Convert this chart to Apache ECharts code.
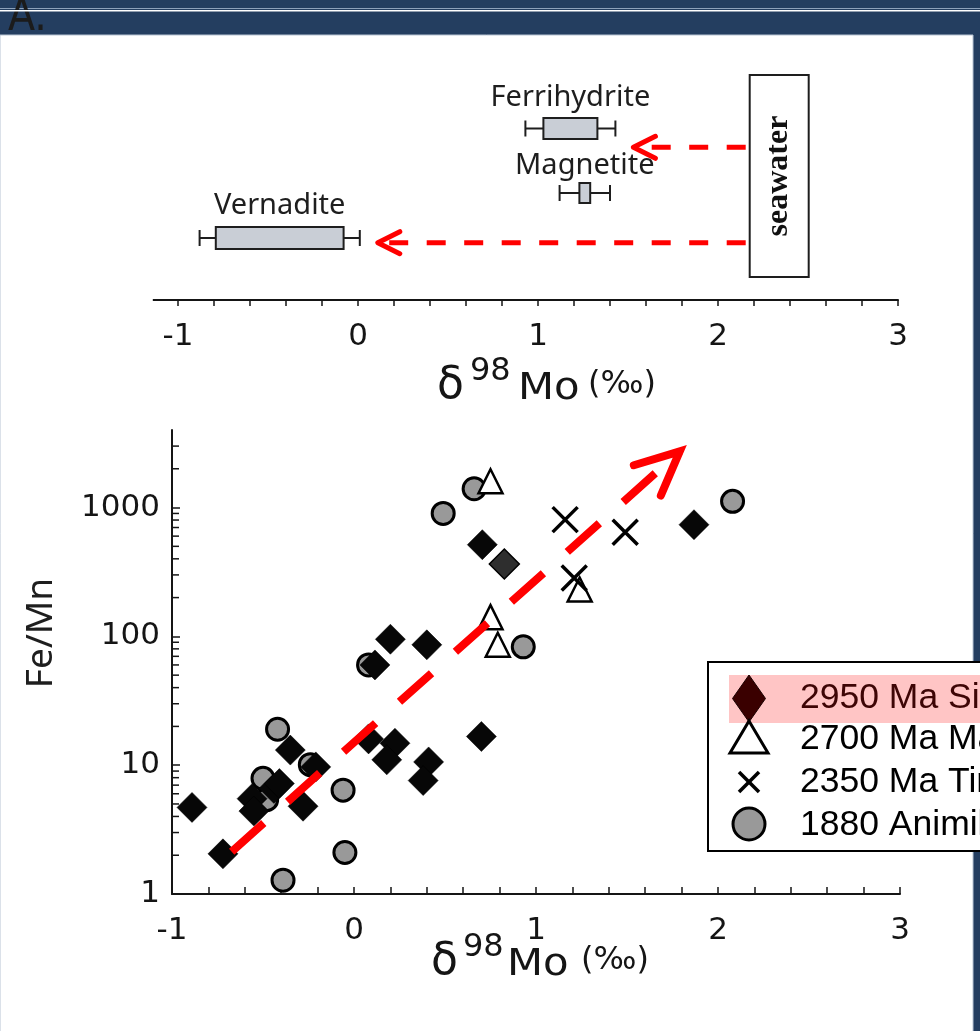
<!DOCTYPE html>
<html>
<head>
<meta charset="utf-8">
<script src="https://cdn.jsdelivr.net/npm/echarts@6/dist/echarts.min.js"></script>
<style>
html,body{margin:0;padding:0;background:#243e60;}
#c{width:980px;height:1031px;}
</style>
</head>
<body>
<div id="c"></div>
<script>
// ================= DATA =================
// Top panel: δ98Mo ranges of Mo adsorbed on minerals (whisker low, Q1, Q3, whisker high)
const minerals = ['Ferrihydrite', 'Magnetite', 'Vernadite'];
const boxWhiskerLow  = [0.93, 1.12, -0.88];
const boxQ1          = [1.03, 1.23, -0.79];
const boxQ3          = [1.33, 1.29, -0.08];
const boxWhiskerHigh = [1.43, 1.40, 0.01];
const seawaterD98Mo = 2.34;
const seawaterLabel = 'seawater';
const arrowTargetsD98Mo = [1.53, 0.11];

// Bottom panel: Fe/Mn vs δ98Mo
const seriesNames = ['2950 Ma Sinqeni Fm.', '2700 Ma Manjeri Fm.', '2350 Ma Timeball Hill Fm.', '1880 Animikie Basin'];
const sinqeniD98Mo = [-0.89, -0.72, -0.56, -0.55, -0.44, -0.41, -0.35, -0.21, -0.28, 0.08, 0.225, 0.18, 0.41, 0.38, 0.20, 0.40, 0.115, 0.70, 0.705, 0.826, 1.868];
const sinqeniFeMn  = [4.7, 2.05, 5.5, 4.4, 6.6, 7.2, 13.1, 9.7, 4.8, 16.0, 14.8, 11.0, 10.6, 7.6, 95, 86, 60, 16.7, 515, 365, 736];
const manjeriD98Mo = [0.75, 0.75, 0.79, 1.24];
const manjeriFeMn  = [1600, 141, 86, 231];
const timeballD98Mo = [1.16, 1.49, 1.21];
const timeballFeMn  = [806, 642, 284];
const animikieD98Mo = [-0.42, -0.24, -0.50, -0.48, -0.06, -0.05, -0.39, 0.08, 0.49, 0.66, 0.93, 2.08];
const animikieFeMn  = [19.0, 10.1, 7.9, 5.4, 6.4, 2.1, 1.28, 60, 900, 1400, 83, 1117];
const trendD98Mo = [-0.672, 1.79];
const trendFeMn  = [2.13, 2730];

const xTickLabels = [-1, 0, 1, 2, 3];
const yTickLabels = [1, 10, 100, 1000];
const axisTitleParts = ['δ', '98', 'Mo', '(‰)'];
const yAxisTitle = 'Fe/Mn';

// ================= LAYOUT / STYLE =================
const INK = '#151515';
const RED = '#ff0000';
const TOP_ROWS = { box: [68.5, 133, 178], labelDy: [-31, -27.5, -32], arrows: [87.3, 182.7], swTop: 15, swBottom: 217 };
const BOX_H = [21, 20, 22];
const SW_HALF_W = 29.5;
const TOP_AXIS_START = -1.14;
const SHADED_DIAMOND = 19;

// axis title pieces: vertical offset, font size, horizontal stretch
const TITLE_STYLE = [ { size: 44, dy: -2, sx: 1 }, { size: 32, dy: -17, sx: 1 }, { size: 38, dy: 0, sx: 1.1 }, { size: 32, dy: -4, sx: 1 } ];
const TITLE_POS = [
  { xs: [437, 470, 518, 588], y: 389 },
  { xs: [431, 463, 507, 581], y: 965 }
];

const fmtX = v => { const r = Math.round(v); return (Math.abs(v - r) < 1e-6 && xTickLabels.includes(r)) ? String(r) : ''; };
const fmtY = v => { const r = Math.round(v); return (Math.abs(v - r) < 1e-6 && yTickLabels.includes(r)) ? String(r) : ''; };

const tickFont = { fontFamily: 'DejaVu Sans', fontSize: 31, color: INK };

const minorVals = [];
for (let e = 0; e < 4; e++) for (let m = 2; m <= 9; m++) { const v = m * Math.pow(10, e); if (v < 4000) minorVals.push(v); }

const titleGraphics = [];
TITLE_POS.forEach(tp => {
  axisTitleParts.forEach((t, k) => {
    titleGraphics.push({
      type: 'text', z: 5, x: tp.xs[k], y: tp.y + TITLE_STYLE[k].dy, scaleX: TITLE_STYLE[k].sx,
      style: { text: t, fontFamily: 'DejaVu Sans', fontSize: TITLE_STYLE[k].size, fill: INK, align: 'left', verticalAlign: 'middle' }
    });
  });
});

const chart = echarts.init(document.getElementById('c'), null, { renderer: 'canvas', width: 980, height: 1031 });

const LEG = { x: 708, y: 662, w: 320, h: 189, iconX: 749, textX: 800, rows: [698, 739, 782, 825] };

const option = {
  animation: false,
  backgroundColor: '#243e60',
  grid: [
    { left: 178, top: 60, width: 720, height: 240, outerBoundsMode: 'none' },
    { left: 172, top: 430, width: 728, height: 464, outerBoundsMode: 'none' }
  ],
  xAxis: [
    {
      gridIndex: 0, type: 'value', min: -1, max: 3, interval: 0.2, position: 'bottom',
      axisLine: { show: true, onZero: false, lineStyle: { color: INK, width: 2 } },
      axisTick: { show: true, inside: false, length: 6, lineStyle: { color: INK, width: 1.5 } },
      axisLabel: Object.assign({ margin: 21, formatter: fmtX }, tickFont),
      splitLine: { show: false }
    },
    {
      gridIndex: 1, type: 'value', min: -1, max: 3, interval: 0.2, position: 'bottom',
      axisLine: { show: true, onZero: false, lineStyle: { color: INK, width: 2 } },
      axisTick: { show: true, inside: true, length: 7, lineStyle: { color: INK, width: 1.5 } },
      axisLabel: Object.assign({ margin: 21, formatter: fmtX }, tickFont),
      splitLine: { show: false }
    }
  ],
  yAxis: [
    { gridIndex: 0, type: 'value', min: 0, max: 240, inverse: true, show: false },
    {
      gridIndex: 1, type: 'log', logBase: 10, min: 1, max: 4000,
      axisLine: { show: true, onZero: false, lineStyle: { color: INK, width: 2 } },
      axisTick: { show: true, inside: true, length: 8, lineStyle: { color: INK, width: 1.5 } },
      axisLabel: Object.assign({ margin: 12, formatter: fmtY, showMaxLabel: false }, tickFont),
      splitLine: { show: false },
      minorTick: { show: false }
    }
  ],
  graphic: [
    { type: 'rect', z: -20, shape: { x: 0, y: 8, width: 980, height: 1 }, style: { fill: '#8ea2bb' } },
    { type: 'text', z: -19, x: 8, y: 41, style: { text: 'A.', fontFamily: "'Liberation Sans Narrow', 'DejaVu Sans Condensed', sans-serif", fontSize: 44, fill: '#1b1b1b', verticalAlign: 'bottom' } },
    { type: 'rect', z: -18, shape: { x: 0, y: 10, width: 980, height: 1.5 }, style: { fill: '#ffffff' } },
    { type: 'rect', z: -18, shape: { x: 0, y: 35, width: 973, height: 1000 }, style: { fill: '#ffffff', stroke: '#b8c4d3', lineWidth: 1 } },
    { type: 'text', z: 5, x: 41, y: 633, rotation: Math.PI / 2, style: { text: yAxisTitle, fontFamily: 'Noto Sans', fontSize: 37, fill: '#1e1e1e', align: 'center', verticalAlign: 'middle' } },
    // legend
    { type: 'rect', z: 100, shape: { x: LEG.x, y: LEG.y, width: LEG.w, height: LEG.h }, style: { fill: '#ffffff', stroke: '#000', lineWidth: 2 } },
    { type: 'rect', z: 101, shape: { x: 729, y: 675, width: 300, height: 48 }, style: { fill: '#ffc5c5' } },
    { type: 'polygon', z: 102, shape: { points: [[LEG.iconX, 675], [LEG.iconX + 16.5, 698.5], [LEG.iconX, 722], [LEG.iconX - 16.5, 698.5]] }, style: { fill: '#3a0000', stroke: '#1a0000', lineWidth: 1 } },
    { type: 'polygon', z: 102, shape: { points: [[LEG.iconX, 721], [LEG.iconX + 19, 753], [LEG.iconX - 19, 753]] }, style: { fill: '#fff', stroke: '#000', lineWidth: 3 } },
    { type: 'line', z: 102, shape: { x1: LEG.iconX - 10, y1: 772, x2: LEG.iconX + 10, y2: 792 }, style: { stroke: '#000', lineWidth: 3.5 } },
    { type: 'line', z: 102, shape: { x1: LEG.iconX + 10, y1: 772, x2: LEG.iconX - 10, y2: 792 }, style: { stroke: '#000', lineWidth: 3.5 } },
    { type: 'circle', z: 102, shape: { cx: LEG.iconX, cy: 824, r: 16 }, style: { fill: '#999', stroke: '#000', lineWidth: 3 } }
  ].concat(seriesNames.map((n, i) => ({
    type: 'text', z: 103, x: LEG.textX, y: LEG.rows[i],
    style: { text: n, fontFamily: 'Liberation Sans', fontSize: 35.5, fill: i === 0 ? '#3d0505' : '#000', verticalAlign: 'middle', align: 'left' }
  }))).concat(titleGraphics),
  series: [
    // top panel: axis-line extension to the left of -1
    {
      type: 'custom', xAxisIndex: 0, yAxisIndex: 0, silent: true, clip: false,
      data: [[TOP_AXIS_START, 240]],
      renderItem: (p, api) => {
        const a = api.coord([api.value(0), api.value(1)]);
        const b = api.coord([-1, api.value(1)]);
        return { type: 'line', shape: { x1: a[0], y1: a[1], x2: b[0], y2: b[1] }, style: { stroke: INK, lineWidth: 2 } };
      }
    },
    // top panel: box plots
    {
      type: 'custom', xAxisIndex: 0, yAxisIndex: 0, silent: true,
      data: minerals.map((m, i) => [boxWhiskerLow[i], boxQ1[i], boxQ3[i], boxWhiskerHigh[i], TOP_ROWS.box[i]]),
      encode: { x: [0, 1, 2, 3], y: 4 },
      renderItem: (p, api) => {
        const i = p.dataIndex;
        const y = api.value(4);
        const lo = api.coord([api.value(0), y]);
        const q1 = api.coord([api.value(1), y]);
        const q3 = api.coord([api.value(2), y]);
        const hi = api.coord([api.value(3), y]);
        const cy = lo[1], bh = BOX_H[i], ch = 8;
        const st = { stroke: '#1e1e1e', lineWidth: 2 };
        return { type: 'group', children: [
          { type: 'line', shape: { x1: lo[0], y1: cy, x2: hi[0], y2: cy }, style: st },
          { type: 'line', shape: { x1: lo[0], y1: cy - ch, x2: lo[0], y2: cy + ch }, style: st },
          { type: 'line', shape: { x1: hi[0], y1: cy - ch, x2: hi[0], y2: cy + ch }, style: st },
          { type: 'rect', shape: { x: q1[0], y: cy - bh / 2, width: q3[0] - q1[0], height: bh }, style: { fill: '#c9ced6', stroke: '#1e1e1e', lineWidth: 2 } },
          { type: 'text', x: (q1[0] + q3[0]) / 2, y: cy + TOP_ROWS.labelDy[i], style: { text: minerals[i], fontFamily: 'Noto Sans', fontSize: 29, fill: '#1e1e1e', align: 'center', verticalAlign: 'middle' } }
        ] };
      }
    },
    // top panel: seawater box and dashed arrows
    {
      type: 'custom', xAxisIndex: 0, yAxisIndex: 0, silent: true, z: 4,
      data: [[seawaterD98Mo, TOP_ROWS.swTop]],
      renderItem: (p, api) => {
        const t = api.coord([api.value(0), TOP_ROWS.swTop]);
        const b = api.coord([api.value(0), TOP_ROWS.swBottom]);
        const left = t[0] - SW_HALF_W;
        const ch = [
          { type: 'rect', shape: { x: left, y: t[1], width: SW_HALF_W * 2, height: b[1] - t[1] }, style: { fill: '#fff', stroke: '#1e1e1e', lineWidth: 2 } },
          { type: 'text', x: t[0], y: (t[1] + b[1]) / 2, rotation: Math.PI / 2, style: { text: seawaterLabel, fontFamily: 'Liberation Serif', fontWeight: 'bold', fontSize: 32, fill: '#111', align: 'center', verticalAlign: 'middle' } }
        ];
        arrowTargetsD98Mo.forEach((v, k) => {
          const tip = api.coord([v, TOP_ROWS.arrows[k]]);
          const sx = left - 4;
          ch.push({ type: 'line', shape: { x1: sx, y1: tip[1], x2: tip[0], y2: tip[1] }, style: { stroke: RED, lineWidth: 5, lineDash: [19, 18.5] } });
          ch.push({ type: 'polyline', shape: { points: [[tip[0] + 22, tip[1] - 11], [tip[0], tip[1]], [tip[0] + 22, tip[1] + 11]] }, style: { stroke: RED, lineWidth: 5, fill: null, lineCap: 'round', lineJoin: 'round' } });
        });
        return { type: 'group', children: ch };
      }
    },
    // bottom panel: minor log ticks
    {
      type: 'custom', xAxisIndex: 1, yAxisIndex: 1, silent: true,
      data: minorVals.map(v => [-1, v]),
      renderItem: (p, api) => {
        const c = api.coord([api.value(0), api.value(1)]);
        return { type: 'line', shape: { x1: c[0], y1: c[1], x2: c[0] + 7, y2: c[1] }, style: { stroke: INK, lineWidth: 1.5 } };
      }
    },
    {
      name: seriesNames[3], type: 'scatter', xAxisIndex: 1, yAxisIndex: 1, z: 2,
      symbol: 'circle', symbolSize: 22,
      itemStyle: { color: '#999999', borderColor: '#000', borderWidth: 3, opacity: 1 },
      emphasis: { disabled: true },
      data: animikieD98Mo.map((x, i) => [x, animikieFeMn[i]])
    },
    {
      name: seriesNames[0], type: 'scatter', xAxisIndex: 1, yAxisIndex: 1, z: 3,
      symbol: 'diamond', symbolSize: 30,
      itemStyle: { color: '#070707', borderColor: '#000', borderWidth: 0.5, opacity: 1 },
      emphasis: { disabled: true },
      data: sinqeniD98Mo.map((x, i) => i === SHADED_DIAMOND
        ? { value: [x, sinqeniFeMn[i]], itemStyle: { color: '#2e2e2e', borderColor: '#000', borderWidth: 1.5 } }
        : [x, sinqeniFeMn[i]])
    },
    {
      name: seriesNames[1], type: 'scatter', xAxisIndex: 1, yAxisIndex: 1, z: 4,
      symbol: 'triangle', symbolSize: 24,
      itemStyle: { color: '#ffffff', borderColor: '#000', borderWidth: 2.5, opacity: 1 },
      emphasis: { disabled: true },
      data: manjeriD98Mo.map((x, i) => [x, manjeriFeMn[i]])
    },
    {
      name: seriesNames[2], type: 'scatter', xAxisIndex: 1, yAxisIndex: 1, z: 5,
      symbol: 'path://M0,0L10,10M10,0L0,10', symbolSize: 25,
      itemStyle: { color: 'rgba(0,0,0,0)', borderColor: '#000', borderWidth: 3.5, opacity: 1 },
      emphasis: { disabled: true },
      data: timeballD98Mo.map((x, i) => [x, timeballFeMn[i]])
    },
    // bottom panel: red dashed trend arrow
    {
      type: 'custom', xAxisIndex: 1, yAxisIndex: 1, silent: true, z: 10, clip: false,
      data: [[trendD98Mo[0], trendFeMn[0], trendD98Mo[1], trendFeMn[1]]],
      encode: { x: [0, 2], y: [1, 3] },
      renderItem: (p, api) => {
        const p0 = api.coord([api.value(0), api.value(1)]);
        const p1 = api.coord([api.value(2), api.value(3)]);
        const ang = Math.atan2(p0[1] - p1[1], p0[0] - p1[0]);
        const L = 48, a = 25 * Math.PI / 180;
        const w1 = [p1[0] + L * Math.cos(ang + a), p1[1] + L * Math.sin(ang + a)];
        const w2 = [p1[0] + L * Math.cos(ang - a), p1[1] + L * Math.sin(ang - a)];
        return { type: 'group', children: [
          { type: 'line', shape: { x1: p0[0], y1: p0[1], x2: p1[0], y2: p1[1] }, style: { stroke: RED, lineWidth: 8, lineDash: [43, 32] } },
          { type: 'polyline', shape: { points: [w1, p1, w2] }, style: { stroke: RED, lineWidth: 8, fill: null, lineCap: 'round', lineJoin: 'miter' } }
        ] };
      }
    }
  ]
};
chart.setOption(option);
</script>
</body>
</html>
